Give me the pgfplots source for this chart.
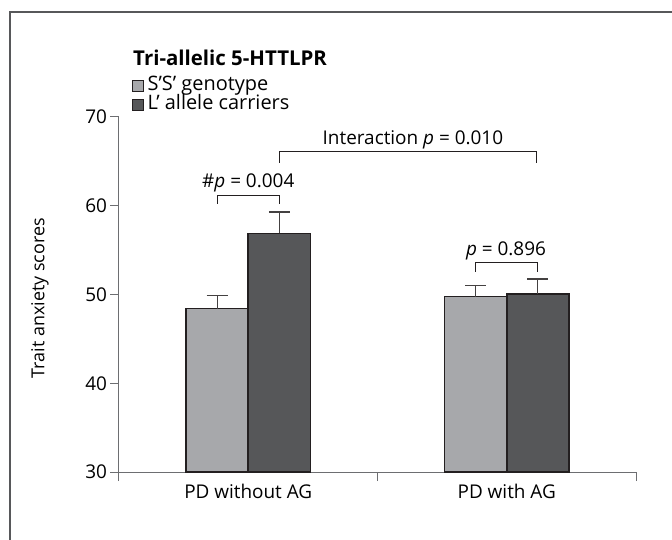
\documentclass[border=0pt]{standalone}
\usepackage{fontspec}
\setmainfont{Open Sans}
\usepackage{pgfplots}
\pgfplotsset{compat=1.18}
\definecolor{lightbar}{HTML}{A7A8AB}
\definecolor{darkbar}{HTML}{565759}
\definecolor{edge}{HTML}{231F20}
\definecolor{axisgray}{HTML}{6D6E71}
\newcommand{\fs}{\fontsize{19}{22}\selectfont}
\newcommand{\fl}{\fontsize{20}{24}\selectfont}
\pgfplotsset{sqlegend/.style={legend image code/.code={\draw[##1, line width=1bp] (0bp,-5.5bp) rectangle (11bp,5.5bp);}}}
\begin{document}
\begin{tikzpicture}
\useasboundingbox (-119bp,-68bp) rectangle (553bp,472bp);
\draw[line width=1.5bp, color=axisgray!80!black] (-109bp,-80bp) -- (-109bp,460bp) -- (560bp,460bp);
\begin{axis}[
  scale only axis, width=517bp, height=355bp,
  at={(0,0)}, anchor=south west,
  xmin=0, xmax=2, ymin=30, ymax=70,
  clip=false,
  axis lines*=left,
  axis line style={axisgray, line width=1bp},
  tick style={axisgray, line width=1bp},
  tick align=outside,
  major tick length=8.5bp,
  minor tick length=9bp,
  xtick={0.5,1.5}, xticklabels={PD without AG, PD with AG},
  minor xtick={0,1,2},
  major x tick style={draw=none},
  ytick={30,40,50,60,70},
  ticklabel style={font=\fs, text=black},
  /pgf/number format/assume math mode=true,
  ylabel={Trait anxiety scores},
  ylabel style={font=\fontsize{18}{20}\selectfont, at={(axis description cs:-0.153,0.49)}, anchor=center},
  legend style={at={(rel axis cs:0.024,1.1135)}, anchor=north west, draw=none, fill=none,
    inner sep=0pt, row sep=0bp, column sep=4bp, font=\fl,
    nodes={inner sep=0pt, text height=14bp, text depth=4.5bp}},
  legend cell align=left,
]
\addplot[ybar, bar width=0.24, bar shift=0, fill=lightbar, draw=edge, line width=1.5bp, sqlegend,
  error bars/.cd, y dir=plus, y explicit,
  error bar style={line width=1.2bp, color=edge!85},
  error mark options={rotate=90, mark size=10.5bp, line width=1.2bp, color=edge!85}]
  coordinates {(0.38,48.4) +- (0,1.5) (1.38,49.75) +- (0,1.25)};
\addlegendentry{S’S’ genotype}
\addplot[ybar, bar width=0.24, bar shift=0, fill=darkbar, draw=edge, line width=1.5bp, sqlegend,
  error bars/.cd, y dir=plus, y explicit,
  error bar style={line width=1.2bp, color=edge!85},
  error mark options={rotate=90, mark size=10.5bp, line width=1.2bp, color=edge!85}]
  coordinates {(0.62,56.9) +- (0,2.4) (1.62,50.05) +- (0,1.7)};
\addlegendentry{L’ allele carriers}
% brackets
\addplot[sharp plot, no marks, edge, line width=1bp, forget plot]
  coordinates {(0.62,64.82) (0.62,66.06) (1.617,66.06) (1.617,64.82)};
\addplot[sharp plot, no marks, edge, line width=1bp, forget plot]
  coordinates {(0.38,60.2) (0.38,61.15) (0.62,61.15) (0.62,60.2)};
\addplot[sharp plot, no marks, edge, line width=1bp, forget plot]
  coordinates {(1.38,52.57) (1.38,53.66) (1.62,53.66) (1.62,52.57)};
\node[anchor=base, font=\fs] at (axis cs:1.137,66.9) {Interaction \textit{p} = 0.010};
\node[anchor=base, font=\fs] at (axis cs:0.5,62.08) {\#\textit{p} = 0.004};
\node[anchor=base, font=\fs] at (axis cs:1.497,54.45) {\textit{p} = 0.896};
\end{axis}
\node[anchor=base west, font=\bfseries\fontsize{20.5}{24}\selectfont, inner sep=0pt] at (14bp,406bp) {Tri-allelic 5-HTTLPR};
\end{tikzpicture}
\end{document}
